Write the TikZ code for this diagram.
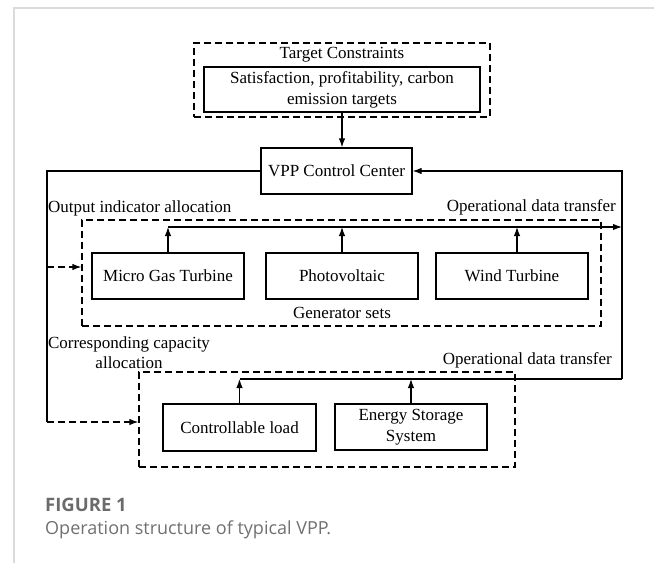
\documentclass[tikz,border=0pt]{standalone}
\usepackage{fontspec}
\setmainfont{Liberation Serif}
\newfontfamily\capfont{Open Sans}
\usetikzlibrary{arrows.meta,calc}
\begin{document}
\begin{tikzpicture}[x=1pt,y=-1pt,
  every node/.style={font=\rmfamily\fontsize{17}{21}\selectfont},
  box/.style={draw,line width=1.2pt,minimum width=152pt,minimum height=46pt,inner sep=0pt,align=center},
  group/.style={draw,line width=1.2pt,dash pattern=on 7pt off 4pt,inner sep=0pt},
  lbl/.style={inner sep=0pt},
  conn/.style={line width=1.2pt},
  arr/.style={line width=1.2pt,-{Latex[length=9pt,width=6.5pt]}},
  darr/.style={line width=1.2pt,dash pattern=on 7pt off 4pt,-{Latex[length=9pt,width=6.5pt]}}
]
\useasboundingbox (0,0) rectangle (654,563);
% page frame
\draw[line width=2pt,color=black!14] (14,563) -- (14,8) -- (654,8);

% target constraints
\node[group,minimum width=296pt,minimum height=74pt] (tc) at (342,80) {};
\node[lbl] (tctitle) at (342,55) {Target Constraints};
\node[box,minimum width=276pt,minimum height=45pt] (sat) at (342,89.5) {Satisfaction, profitability, carbon\\emission targets};

% control center
\node[box,minimum width=151pt] (vpp) at (336.5,171) {VPP Control Center};

% generator sets
\node[group,minimum width=519pt,minimum height=106pt] (gen) at (341.5,273) {};
\node[box] (micro) at (168,276) {Micro Gas Turbine};
\node[box] (pv) at (342,276) {Photovoltaic};
\node[box] (wind) at (512,276) {Wind Turbine};
\node[lbl] (gentxt) at (342,313) {Generator sets};

% loads
\node[group,minimum width=376pt,minimum height=95pt] (load) at (327,419.5) {};
\node[box,minimum width=153pt,minimum height=47pt] (cl) at (239.5,427.5) {Controllable load};
\node[box] (ess) at (411,427) {Energy Storage\\System};

% labels
\node[lbl,anchor=west] (oia) at (48,208) {Output indicator allocation};
\node[lbl,anchor=east] (odt1) at (616,207) {Operational data transfer};
\node[lbl,align=center,font=\rmfamily\fontsize{17}{20}\selectfont] (cca) at (129,353) {Corresponding capacity\\allocation};
\node[lbl,anchor=east] (odt2) at (612,360) {Operational data transfer};

% coordinates
\coordinate (lt) at (47,171);
\coordinate (lm) at (47,267);
\coordinate (lb) at (47,422);
\coordinate (rt) at (622,171);
\coordinate (rb) at (622,379);
\coordinate (gbus) at (168,227);
\coordinate (gend) at (622,227);
\coordinate (lbus) at (238,379);

% connectors
\draw[arr] (sat.south) -- (sat.south |- vpp.north);
\draw[conn] (vpp.west) -- (lt) -- (lb);
\draw[darr] (lm) -- (lm -| gen.west);
\draw[darr] (lb) -- (lb -| load.west);
\draw[arr] (rb) -- (rt) -- (vpp.east);
\draw[arr] (gbus) -- (gend);
\draw[arr] (micro.north) -- (micro.north |- gbus);
\draw[arr] (pv.north) -- (pv.north |- gbus);
\draw[arr] ([xshift=5pt]wind.north) -- ([xshift=5pt]wind.north |- gbus);
\draw[conn] (cl.north |- lbus) -- (rb);
\draw[arr] (cl.north) -- (cl.north |- lbus);
\draw[arr] (ess.north) -- (ess.north |- lbus);

% caption
\node[anchor=base west,inner sep=0pt,font=\capfont\bfseries\fontsize{18.5}{22}\selectfont,text=black!58] (fig) at (45,511) {FIGURE 1};
\node[anchor=base west,inner sep=0pt,font=\capfont\fontsize{18}{22}\selectfont,text=black!56] (cap) at (45,534) {Operation structure of typical VPP.};
\end{tikzpicture}
\end{document}
